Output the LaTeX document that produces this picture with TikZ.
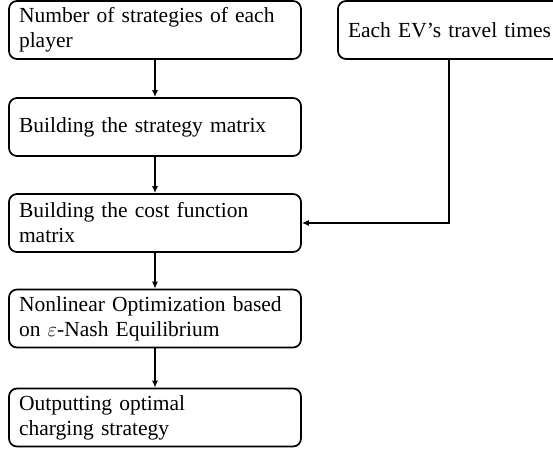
\documentclass[tikz,border=0pt]{standalone}
\usepackage{amsmath}
\usepackage{fontspec}
\setmainfont{Liberation Serif}
\usetikzlibrary{arrows,arrows.meta,shapes}

\begin{document}
\begin{tikzpicture}[x=1pt,y=-1pt,-{Latex[length=7pt,width=6pt]},line width=1.3pt]
  \tikzstyle{every node}=[font=\fontsize{21.5}{25}\selectfont]
  \tikzstyle{stepbox}=[draw=black,line width=1.7pt,rounded corners=8pt,
    minimum width=292pt,minimum height=58pt,text width=272pt,align=left,
    inner sep=0pt]

  \useasboundingbox (0,0) rectangle (553,453);
  \clip (0,0) rectangle (553,453);

  \node[stepbox] at (155, 30.0) (num)  {Number of strategies of each\\player};
  \node[stepbox] at (155,127.0) (strat) {Building the strategy matrix};
  \node[stepbox] at (155,223.0) (cost) {Building the cost function\\matrix};
  \node[stepbox] at (155,318.5) (opt)  {Nonlinear Optimization based\\on $\varepsilon$-Nash Equilibrium};
  \node[stepbox] at (155,417.5) (out)  {Outputting optimal\\charging strategy};
  \node[stepbox,minimum width=240pt,text width=220pt] at (458,30.0) (ev) {Each EV’s travel times};

  \path (num)   edge (strat)
        (strat) edge (cost)
        (cost)  edge (opt)
        (opt)   edge (out);
  \draw (ev.south -| 449,0) |- (cost.east);
\end{tikzpicture}
\end{document}
